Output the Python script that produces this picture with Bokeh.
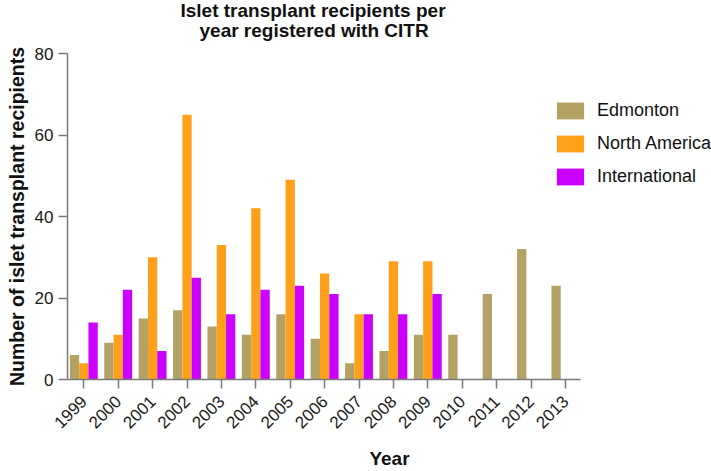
import math
from bokeh.plotting import figure
from bokeh.models import ColumnDataSource, Range1d, FixedTicker, Title
from bokeh.transform import dodge
from bokeh.embed import file_html
from bokeh.resources import INLINE

# ---- data ----
years = [1999, 2000, 2001, 2002, 2003, 2004, 2005, 2006, 2007, 2008, 2009, 2010, 2011, 2012, 2013]
edmonton = [6, 9, 15, 17, 13, 11, 16, 10, 4, 7, 11, 11, 21, 32, 23]
na_years = [1999, 2000, 2001, 2002, 2003, 2004, 2005, 2006, 2007, 2008, 2009]
north_america = [4, 11, 30, 65, 33, 42, 49, 26, 16, 29, 29]
international = [14, 22, 7, 25, 16, 22, 23, 21, 16, 16, 21]
series_names = ["Edmonton", "North America", "International"]
colors = ["#B3A264", "#FFA01A", "#CC00FF"]
y_ticks = [0, 20, 40, 60, 80]
title_lines = ["Islet transplant recipients per", "year registered with CITR"]

FONT = "Liberation Sans"

src_ed = ColumnDataSource(dict(year=years, value=edmonton))
src_na = ColumnDataSource(dict(year=na_years, value=north_america))
src_in = ColumnDataSource(dict(year=na_years, value=international))

x_start, x_axis_end = 1998.526, 2013.436
p = figure(width=711, height=471, output_backend="svg", toolbar_location=None,
           x_range=Range1d(x_start, 2017.247), y_range=Range1d(0, 80),
           min_border_left=67, min_border_right=0, min_border_top=53, min_border_bottom=90,
           title=None)

bw = 0.27
p.vbar(x=dodge("year", -bw, range=p.x_range), top="value", width=bw, source=src_ed,
       fill_color=colors[0], line_color=None, legend_label=series_names[0])
p.vbar(x=dodge("year", 0.0, range=p.x_range), top="value", width=bw, source=src_na,
       fill_color=colors[1], line_color=None, legend_label=series_names[1])
p.vbar(x=dodge("year", bw, range=p.x_range), top="value", width=bw, source=src_in,
       fill_color=colors[2], line_color=None, legend_label=series_names[2])

# title: two lines, each placed individually
t2 = Title(text=title_lines[1], align="left", offset=132, standoff=24.5,
           text_font=FONT, text_font_size="19px", text_font_style="bold", text_color="#111111")
t1 = Title(text=title_lines[0], align="left", offset=113, standoff=-30,
           text_font=FONT, text_font_size="19px", text_font_style="bold", text_color="#111111")
p.add_layout(t2, "above")
p.add_layout(t1, "above")

# frame / grid
p.outline_line_color = None
p.xgrid.grid_line_color = None
p.ygrid.grid_line_color = None
p.background_fill_color = "white"
p.border_fill_color = "white"

# axes
for ax in (p.xaxis[0], p.yaxis[0]):
    ax.axis_line_color = "#7a7a7a"
    ax.axis_line_width = 1.5
    ax.major_tick_line_color = "#7a7a7a"
    ax.major_tick_line_width = 1.5
    ax.major_tick_out = 9
    ax.major_tick_in = 0
    ax.minor_tick_line_color = None
    ax.major_label_text_font = FONT
    ax.major_label_text_color = "#1a1a1a"
    ax.axis_label_text_font = FONT
    ax.axis_label_text_font_style = "bold"
    ax.axis_label_text_color = "#111111"

p.xaxis.bounds = (x_start, x_axis_end)
p.xaxis.ticker = FixedTicker(ticks=years)
p.xaxis.major_label_orientation = math.pi / 4
p.xaxis.major_label_text_font_size = "17px"
p.xaxis.major_label_standoff = 10
p.xaxis.axis_label = "Year"
p.xaxis.axis_label_text_font_size = "19px"
p.xaxis.axis_label_standoff = 11

p.yaxis.ticker = FixedTicker(ticks=y_ticks)
p.yaxis.major_label_text_font_size = "17px"
p.yaxis.major_label_standoff = 5
p.yaxis.axis_label = "Number of islet transplant recipients"
p.yaxis.axis_label_text_font_size = "19.5px"
p.yaxis.axis_label_standoff = 4

# legend
lg = p.legend[0]
lg.location = (486, 192)
lg.border_line_color = None
lg.background_fill_alpha = 0
lg.margin = 0
lg.padding = 0
lg.glyph_width = 34
lg.glyph_height = 21
lg.label_height = 21
lg.spacing = 12
lg.label_standoff = 10
lg.label_text_font = FONT
lg.label_text_font_size = "18px"
lg.label_text_color = "#111111"

open("out.html", "w").write(file_html(p, INLINE))
